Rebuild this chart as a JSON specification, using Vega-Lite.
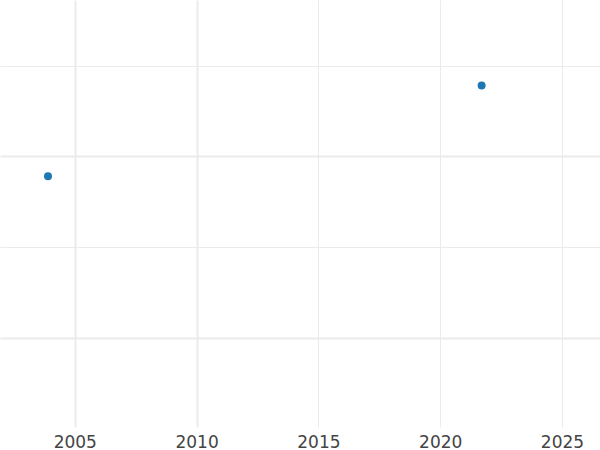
{
  "$schema": "https://vega.github.io/schema/vega-lite/v6.json",
  "width": 600,
  "height": 450,
  "autosize": {"type": "fit", "contains": "padding"},
  "padding": 0,
  "background": "white",
  "config": {"view": {"stroke": null}},
  "data": {"values": [
    {"year": 2003.9, "value": 1.89},
    {"year": 2021.7, "value": 2.39}
  ]},
  "mark": {"type": "circle", "size": 64, "opacity": 1, "color": "#1f77b4"},
  "encoding": {
    "x": {
      "field": "year", "type": "quantitative",
      "scale": {"domain": [2001.93, 2026.56], "nice": false, "zero": false},
      "axis": {
        "title": null, "values": [2005, 2010, 2015, 2020, 2025], "format": "d",
        "domain": false, "ticks": false, "labelPadding": 7, "labelFontSize": 17,
        "labelFont": "DejaVu Sans", "labelColor": "#444444",
        "gridColor": "#ebebeb",
        "gridWidth": {"condition": {"test": "datum.value <= 2010", "value": 2}, "value": 1}
      }
    },
    "y": {
      "field": "value", "type": "quantitative",
      "scale": {"domain": [0.508, 2.862], "nice": false, "zero": false},
      "axis": {
        "title": null, "values": [1, 1.5, 2, 2.5], "labels": false,
        "domain": false, "ticks": false, "gridColor": "#ebebeb",
        "gridWidth": {"condition": {"test": "datum.value == 1 || datum.value == 2", "value": 2}, "value": 1}
      }
    }
  }
}
